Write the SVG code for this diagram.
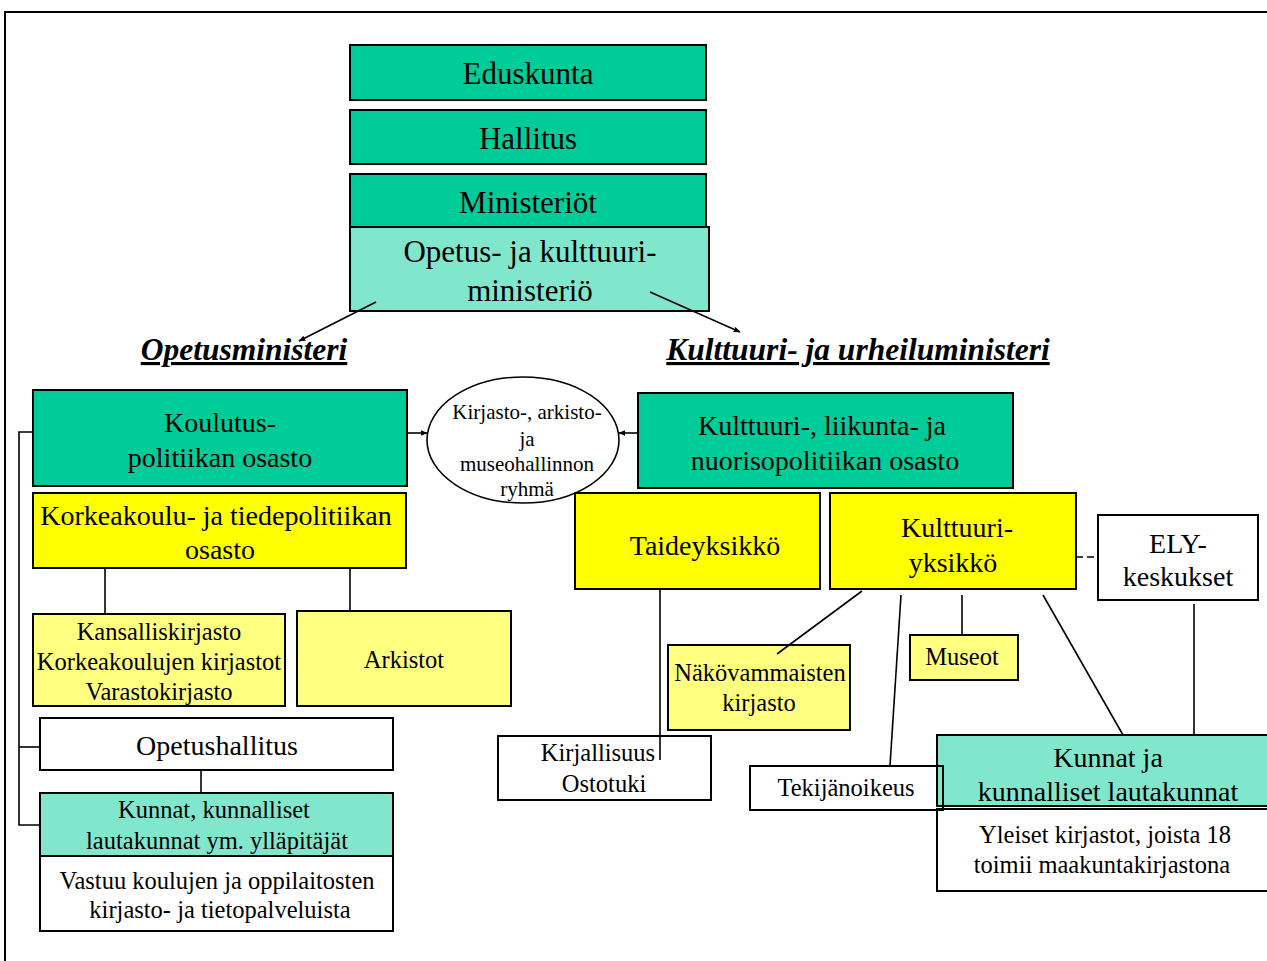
<svg xmlns="http://www.w3.org/2000/svg" width="1267" height="961" viewBox="0 0 1267 961">
<style>
  text { font-family: "Liberation Serif", "Times New Roman", serif; fill: #000; text-anchor: middle; }
  .box { stroke: #000; stroke-width: 2; }
  .g1 { fill: #00CC99; }
  .g2 { fill: #80E6CC; }
  .y1 { fill: #FFFF00; }
  .y2 { fill: #FFFF80; }
  .w { fill: #FFFFFF; }
  .t31 { font-size: 31px; }
  .t28 { font-size: 28px; }
  .t25 { font-size: 24.5px; }
  .t20 { font-size: 21px; }
  .lab { font-size: 31.5px; font-weight: bold; font-style: italic; text-decoration: underline; }
  .ln { stroke: #000; stroke-width: 1.6; fill: none; }
</style>
<defs>
  <marker id="arr" viewBox="0 0 10 10" refX="9" refY="5" markerWidth="7" markerHeight="7" orient="auto" markerUnits="userSpaceOnUse">
    <path d="M0,1 L10,5 L0,9 z" fill="#000"/>
  </marker>
</defs>

<g id="frame">
  <line x1="4" y1="12" x2="1267" y2="12" stroke="#000" stroke-width="2"/>
  <line x1="5" y1="12" x2="5" y2="961" stroke="#000" stroke-width="2"/>
</g>

<g id="eduskunta"><rect class="box g1" x="350" y="45" width="356" height="55"/><text class="t31" x="528" y="84">Eduskunta</text></g>
<g id="hallitus"><rect class="box g1" x="350" y="110" width="356" height="54"/><text class="t31" x="528" y="149">Hallitus</text></g>
<g id="ministeriot"><rect class="box g1" x="350" y="174" width="356" height="53"/><text class="t31" x="528" y="213">Ministeriöt</text></g>
<g id="okm"><rect class="box g2" x="350" y="227" width="359" height="84"/><text class="t31" x="530" y="262">Opetus- ja kulttuuri-</text><text class="t31" x="530" y="301">ministeriö</text></g>

<g id="label-opetusministeri"><text class="lab" x="244" y="360">Opetusministeri</text></g>
<g id="label-kulttuuriministeri"><text class="lab" x="858" y="360">Kulttuuri- ja urheiluministeri</text></g>

<g id="koulutus"><rect class="box g1" x="33" y="390" width="374" height="96"/><text class="t28" x="220" y="432">Koulutus-</text><text class="t28" x="220" y="467">politiikan osasto</text></g>
<g id="korkeakoulu"><rect class="box y1" x="33" y="493" width="373" height="75"/><text class="t28" x="216" y="525">Korkeakoulu- ja tiedepolitiikan</text><text class="t28" x="220" y="559">osasto</text></g>

<g id="ryhma"><ellipse cx="523" cy="440" rx="96" ry="63" fill="#fff" stroke="#000" stroke-width="1.6"/>
  <text class="t20" x="527" y="419">Kirjasto-, arkisto-</text>
  <text class="t20" x="527" y="446">ja</text>
  <text class="t20" x="527" y="471">museohallinnon</text>
  <text class="t20" x="527" y="496">ryhmä</text>
</g>

<g id="kulttuuriosasto"><rect class="box g1" x="638" y="393" width="375" height="95"/><text class="t28" x="822" y="435">Kulttuuri-, liikunta- ja</text><text class="t28" x="825" y="470">nuorisopolitiikan osasto</text></g>
<g id="taideyksikko"><rect class="box y1" x="575" y="493" width="245" height="96"/><text class="t28" x="705" y="555">Taideyksikkö</text></g>
<g id="kulttuuriyksikko"><rect class="box y1" x="830" y="493" width="246" height="96"/><text class="t28" x="957" y="537">Kulttuuri-</text><text class="t28" x="953" y="572">yksikkö</text></g>
<g id="ely"><rect class="box w" x="1098" y="515" width="160" height="85"/><text class="t28" x="1178" y="553">ELY-</text><text class="t28" x="1178" y="586">keskukset</text></g>

<g id="kansalliskirjasto"><rect class="box y2" x="33" y="614" width="252" height="92"/><text class="t25" x="159" y="640">Kansalliskirjasto</text><text class="t25" x="159" y="670">Korkeakoulujen kirjastot</text><text class="t25" x="159" y="700">Varastokirjasto</text></g>
<g id="arkistot"><rect class="box y2" x="297" y="611" width="214" height="95"/><text class="t25" x="404" y="668">Arkistot</text></g>

<g id="opetushallitus"><rect class="box w" x="40" y="718" width="353" height="52"/><text class="t28" x="217" y="755">Opetushallitus</text></g>
<g id="kunnat-vasen"><rect class="box g2" x="40" y="793" width="353" height="63"/><rect class="box w" x="40" y="856" width="353" height="75"/>
  <text class="t25" x="214" y="818">Kunnat, kunnalliset</text><text class="t25" x="217" y="849">lautakunnat ym. ylläpitäjät</text>
  <text class="t25" x="217" y="889">Vastuu koulujen ja oppilaitosten</text><text class="t25" x="220" y="918">kirjasto- ja tietopalveluista</text>
</g>

<g id="kirjallisuus"><rect class="box w" x="498" y="736" width="213" height="64"/><text class="t25" x="598" y="761">Kirjallisuus</text><text class="t25" x="604" y="792">Ostotuki</text></g>
<g id="nakovammaisten"><rect class="box y2" x="668" y="645" width="182" height="85"/><text class="t25" x="760" y="681">Näkövammaisten</text><text class="t25" x="759" y="711">kirjasto</text></g>
<g id="museot"><rect class="box y2" x="910" y="635" width="108" height="45"/><text class="t25" x="962" y="665">Museot</text></g>
<g id="kunnat-oikea"><rect class="box g2" x="937" y="735" width="343" height="71"/><rect class="box w" x="937" y="809" width="343" height="82"/>
  <text class="t28" x="1108" y="767">Kunnat ja</text><text class="t28" x="1108" y="801">kunnalliset lautakunnat</text>
  <text class="t25" x="1105" y="843">Yleiset kirjastot, joista 18</text><text class="t25" x="1102" y="873">toimii maakuntakirjastona</text>
</g>
<g id="tekijanoikeus"><rect class="box" fill="none" x="750" y="766" width="193" height="44"/><text class="t25" x="846" y="796">Tekijänoikeus</text></g>

<g id="connectors">
  <line class="ln" x1="376" y1="302" x2="299" y2="341" marker-end="url(#arr)"/>
  <line class="ln" x1="650" y1="292" x2="740" y2="332" marker-end="url(#arr)"/>
  <line class="ln" x1="407" y1="433" x2="427" y2="433" marker-end="url(#arr)"/>
  <line class="ln" x1="638" y1="433" x2="619" y2="433" marker-end="url(#arr)"/>
  <polyline class="ln" points="33,432 19,432 19,825 40,825"/>
  <line class="ln" x1="19" y1="747" x2="40" y2="747"/>
  <line class="ln" x1="105" y1="568" x2="105" y2="613"/>
  <line class="ln" x1="350" y1="568" x2="350" y2="610"/>
  <line class="ln" x1="201" y1="770" x2="201" y2="793"/>
  <line class="ln" x1="660" y1="589" x2="660" y2="760"/>
  <line class="ln" x1="862" y1="591" x2="777" y2="654"/>
  <line class="ln" x1="901" y1="595" x2="890" y2="766"/>
  <line class="ln" x1="962" y1="595" x2="962" y2="635"/>
  <line class="ln" x1="1043" y1="595" x2="1123" y2="735"/>
  <line class="ln" x1="1194" y1="604" x2="1194" y2="735"/>
  <line class="ln" x1="1076" y1="557" x2="1098" y2="557" stroke-dasharray="7,4"/>
</g>
</svg>
